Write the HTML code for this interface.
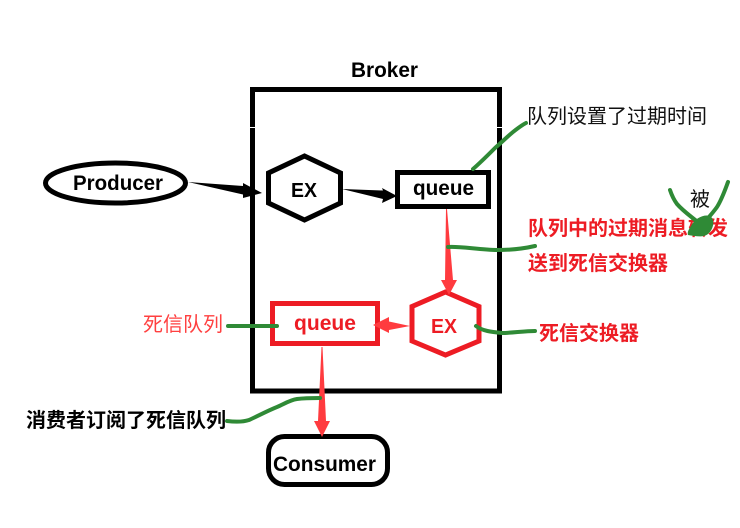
<!DOCTYPE html>
<html>
<head>
<meta charset="utf-8">
<style>
html,body{margin:0;padding:0;background:#fff;}
svg{display:block;}
text{font-family:"Liberation Sans","Noto Sans CJK SC",sans-serif;}
.cjk{font-family:"Liberation Sans","Noto Sans CJK SC",sans-serif;font-size:20px;}
.b{font-weight:700;}
.g{fill:none;stroke:#2f8a36;stroke-width:4;stroke-linecap:round;stroke-linejoin:round;}
</style>
</head>
<body>
<svg width="740" height="528" viewBox="0 0 740 528" xmlns="http://www.w3.org/2000/svg">
<rect width="740" height="528" fill="#fff"/>

<!-- Broker -->
<rect x="252.500" y="89.500" width="247" height="301.500" fill="none" stroke="#000" stroke-width="5"/>
<rect x="250" y="127" width="5" height="1" fill="#fff"/>
<rect x="497" y="127" width="5" height="1" fill="#fff"/>
<text x="351" y="77" font-size="21" class="b" textLength="67" lengthAdjust="spacingAndGlyphs">Broker</text>

<!-- Producer -->
<ellipse cx="115.500" cy="183" rx="70" ry="20" fill="#fff" stroke="#000" stroke-width="5"/>
<text x="73" y="190" font-size="21" class="b" textLength="90" lengthAdjust="spacingAndGlyphs">Producer</text>

<!-- EX -->
<polygon points="304.500,156 340.500,173 340.500,203 304.500,220 268.500,203 268.500,173" fill="#fff" stroke="#000" stroke-width="5"/>
<text x="291" y="197" font-size="20" class="b" textLength="26" lengthAdjust="spacingAndGlyphs">EX</text>

<!-- queue -->
<rect x="397.500" y="172.500" width="91" height="34" fill="#fff" stroke="#000" stroke-width="5"/>
<text x="413" y="195" font-size="21" class="b" textLength="61" lengthAdjust="spacingAndGlyphs">queue</text>

<!-- black arrows -->
<polygon points="188,182 243,186 243,183 262,193 243,198 243,194.500" fill="#000"/>
<polygon points="342,189 383,190.500 382,188 397,196 382,203 383,199" fill="#000"/>

<!-- red queue -->
<rect x="272.500" y="303.500" width="105" height="40" fill="#fff" stroke="#ed1c24" stroke-width="5"/>
<text x="294" y="330" font-size="21" class="b" fill="#ed1c24" textLength="62" lengthAdjust="spacingAndGlyphs">queue</text>

<!-- red EX -->
<polygon points="445.500,292 479,306.500 479,341 445.500,355 412,341 412,306.500" fill="#fff" stroke="#ed1c24" stroke-width="5"/>
<text x="431" y="333" font-size="20" class="b" fill="#ed1c24" textLength="26" lengthAdjust="spacingAndGlyphs">EX</text>

<!-- Consumer -->
<rect x="268.500" y="436.500" width="119" height="48" rx="16" ry="16" fill="#fff" stroke="#000" stroke-width="5"/>
<text x="273" y="471" font-size="21" class="b" textLength="103" lengthAdjust="spacingAndGlyphs">Consumer</text>

<!-- red arrows -->
<polygon points="446,209 447,209 453,280 457,280 449,295 441,280 445,280" fill="#ff3b3f"/>
<polygon points="410,326 389,321.500 389,317 373,325 389,333 389,330" fill="#ff3b3f"/>
<polygon points="321.500,347 322.500,347 326,421 330,421 322,437 314,421 318,421" fill="#ff3b3f"/>

<!-- labels -->
<text x="527" y="123" class="cjk" fill="#111">队列设置了过期时间</text>
<text x="528" y="235" class="cjk b" fill="#ed1c24">队列中的过期消息转发</text>
<text x="528" y="270" class="cjk b" fill="#ed1c24">送到死信交换器</text>
<text x="690" y="206" class="cjk" fill="#111">被</text>
<text x="539" y="340" class="cjk b" fill="#ed1c24">死信交换器</text>
<text x="143" y="331" class="cjk" fill="#ff4040">死信队列</text>
<text x="26" y="427" class="cjk b" fill="#000">消费者订阅了死信队列</text>

<!-- green annotations -->
<path class="g" d="M473,169 C480,163 488,155 495,148 C502,142 507,137 513,132 C518,128 522,125 526,123"/>
<path class="g" d="M448,247 C460,246 480,250 497,250 C510,250 522,249 535,246"/>
<path class="g" d="M228,326 L277,326"/>
<path class="g" d="M476,326 C482,331 492,332 502,333 C512,333 524,331 535,331"/>
<path class="g" d="M227,421 C235,422 243,422 249,420 C258,416 267,411 277,407 C284,404 290,400 297,399 C305,398 313,398 320,398"/>
<path class="g" d="M670,190 C672,196 674,200 677,204 C684,212 692,217 700,224"/>
<path class="g" d="M728,182 C725,190 722,199 717,207 C712,214 707,219 703,224"/>
<path d="M691,226 C695,218 704,214 710,216 C716,220 713,230 708,234 C703,238 695,236 688,235 C687,232 689,229 691,226 Z" fill="#2f8a36"/>
</svg>
</body>
</html>
